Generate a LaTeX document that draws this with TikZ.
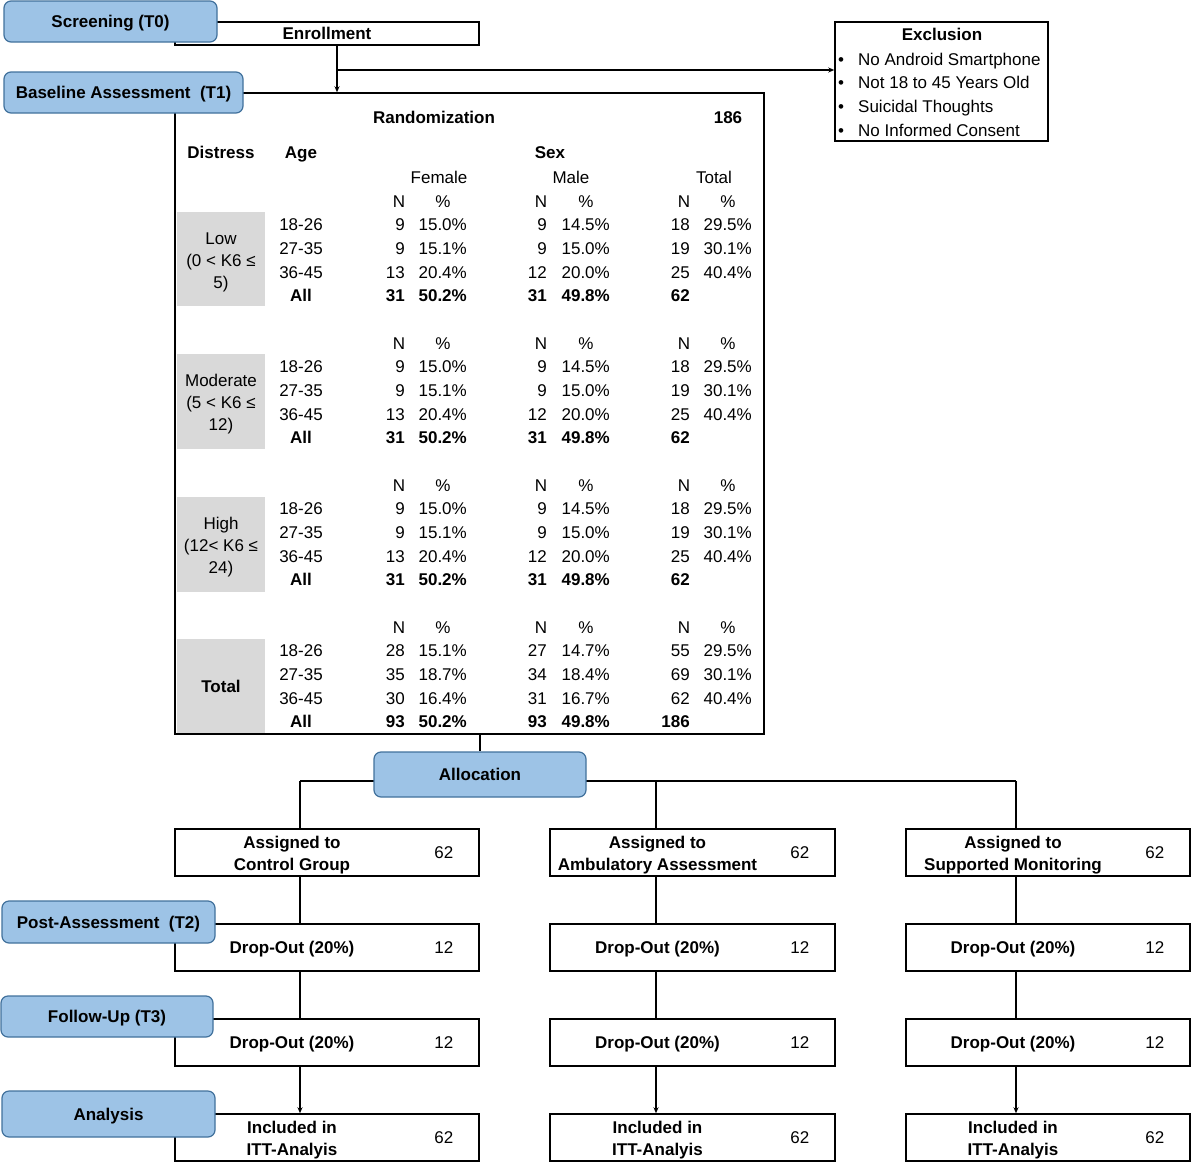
\documentclass[tikz,border=0pt]{standalone}
\usepackage{fontspec}
\setmainfont{Liberation Sans}
\usetikzlibrary{arrows.meta, positioning}
\definecolor{phasefill}{RGB}{157,195,230}
\definecolor{phaseline}{RGB}{65,113,156}
\definecolor{cellgray}{RGB}{217,217,217}

\begin{document}
\begin{tikzpicture}[x=1pt, y=-1pt,
    every node/.style={font=\fontsize{17}{22}\selectfont, inner sep=0pt, text height=12.2pt, text depth=0pt},
    multi/.style={align=center, text height={}, text depth={}, yshift=-3pt},
    phase/.style={draw=phaseline, fill=phasefill, line width=1.2pt, rounded corners=7pt,
        font=\fontsize{17}{22}\selectfont\bfseries},
    stepbox/.style={draw, line width=1.5pt, fill=white},
    link/.style={line width=1.2pt},
    linkarrow/.style={link, -{Stealth[length=6pt,width=5pt]}},
    cell/.style={fill=cellgray, minimum width=88},
]
    \useasboundingbox (0,0) rectangle (1192,1162);

    % enrollment and exclusion
    \node[stepbox, minimum width=589, minimum height=641] (rand) at (469.5,413.5) {};
    \node[stepbox, minimum width=304, minimum height=23, font=\fontsize{17}{22}\selectfont\bfseries] (enroll) at (327,33.5) {Enrollment};
    \node[stepbox, minimum width=213, minimum height=119] (excl) at (941.5,81.5) {};
    \node (excl-title) at (942,34) {\bfseries Exclusion};
    \foreach \item [count=\i] in {No Android Smartphone, Not 18 to 45 Years Old, Suicidal Thoughts, No Informed Consent} {
        \node (bul-\i) at (841,35.5+23.6*\i) {•};
        \node[anchor=west] (exc-\i) at (858,35.5+23.6*\i) {\item};
    }
    \coordinate (split) at (337,70);
    \draw[linkarrow] (enroll.south -| split) -- (rand.north -| split);
    \draw[linkarrow] (split) -- (split -| excl.west);

    % randomization table
    \node (t-rand) at (434,117) {\bfseries Randomization};
    \node (t-sum) at (728,117) {\bfseries 186};
    \node (h-dist) at (221,152) {\bfseries Distress};
    \node (h-age) at (301,152) {\bfseries Age};
    \node (h-sex) at (550,152) {\bfseries Sex};
    \node (h-fem) at (439,177) {Female};
    \node (h-male) at (571,177) {Male};
    \node (h-tot) at (714,177) {Total};

    \node[cell, minimum height=94] (low) at (221,259) {};
    \node[cell, minimum height=95] (mod) at (221,401.5) {};
    \node[cell, minimum height=95] (high) at (221,544.5) {};
    \node[cell, minimum height=94] (tot) at (221,686) {};
    \node[multi] (low-t) at (low) {Low\\(0 < K6 ≤\\5)};
    \node[multi] (mod-t) at (mod) {Moderate\\(5 < K6 ≤\\12)};
    \node[multi] (high-t) at (high) {High\\(12< K6 ≤\\24)};
    \node (tot-t) at (tot) {\bfseries Total};

    \foreach \y in {201,343,485,627} {
        \foreach \x/\t in {399/N, 443/\%, 541/N, 586/\%, 684/N, 728/\%}
            \node (nh-\y-\x) at (\x,\y) {\t};
        \node (all-\y) at (301,\y+94.8) {\bfseries All};
    }
    \foreach \y in {201,343,485} {
        \foreach \age/\fn/\fp/\mn/\mp/\tn/\tp [count=\r] in
            {18-26/9/15.0/9/14.5/18/29.5, 27-35/9/15.1/9/15.0/19/30.1, 36-45/13/20.4/12/20.0/25/40.4} {
            \node (age-\y-\r) at (301,\y+23.7*\r) {\age};
            \node[anchor=east] (fn-\y-\r) at (405,\y+23.7*\r) {\fn};
            \node[anchor=east] (fp-\y-\r) at (467,\y+23.7*\r) {\fp\%};
            \node[anchor=east] (mn-\y-\r) at (547,\y+23.7*\r) {\mn};
            \node[anchor=east] (mp-\y-\r) at (610,\y+23.7*\r) {\mp\%};
            \node[anchor=east] (tn-\y-\r) at (690,\y+23.7*\r) {\tn};
            \node[anchor=east] (tp-\y-\r) at (752,\y+23.7*\r) {\tp\%};
        }
        \node[anchor=east] (fn-\y-4) at (405,\y+94.8) {\bfseries 31};
        \node[anchor=east] (fp-\y-4) at (467,\y+94.8) {\bfseries 50.2\%};
        \node[anchor=east] (mn-\y-4) at (547,\y+94.8) {\bfseries 31};
        \node[anchor=east] (mp-\y-4) at (610,\y+94.8) {\bfseries 49.8\%};
        \node[anchor=east] (tn-\y-4) at (690,\y+94.8) {\bfseries 62};
    }
    \foreach \age/\fn/\fp/\mn/\mp/\tn/\tp [count=\r] in
        {18-26/28/15.1/27/14.7/55/29.5, 27-35/35/18.7/34/18.4/69/30.1, 36-45/30/16.4/31/16.7/62/40.4} {
        \node (age-627-\r) at (301,627+23.7*\r) {\age};
        \node[anchor=east] (fn-627-\r) at (405,627+23.7*\r) {\fn};
        \node[anchor=east] (fp-627-\r) at (467,627+23.7*\r) {\fp\%};
        \node[anchor=east] (mn-627-\r) at (547,627+23.7*\r) {\mn};
        \node[anchor=east] (mp-627-\r) at (610,627+23.7*\r) {\mp\%};
        \node[anchor=east] (tn-627-\r) at (690,627+23.7*\r) {\tn};
        \node[anchor=east] (tp-627-\r) at (752,627+23.7*\r) {\tp\%};
    }
    \node[anchor=east] (fn-627-4) at (405,721.8) {\bfseries 93};
    \node[anchor=east] (fp-627-4) at (467,721.8) {\bfseries 50.2\%};
    \node[anchor=east] (mn-627-4) at (547,721.8) {\bfseries 93};
    \node[anchor=east] (mp-627-4) at (610,721.8) {\bfseries 49.8\%};
    \node[anchor=east] (tn-627-4) at (690,721.8) {\bfseries 186};

    % study arms
    \foreach \arm/\cx/\w/\lx/\grp in {ctrl/327/304/300/Control Group, amb/692.5/285/656/Ambulatory Assessment, sup/1048/284/1016/Supported Monitoring} {
        \node[stepbox, minimum width=\w, minimum height=47] (\arm-assign) at (\cx,852.5) {};
        \node[stepbox, minimum width=\w, minimum height=47] (\arm-drop1) at (\cx,947.5) {};
        \node[stepbox, minimum width=\w, minimum height=47] (\arm-drop2) at (\cx,1042.5) {};
        \node[stepbox, minimum width=\w, minimum height=47] (\arm-itt) at (\cx,1137.5) {};
        \node[multi] (\arm-assign-t) at ([xshift=-35pt]\arm-assign.center) {\bfseries Assigned to\\\bfseries \grp};
        \node (\arm-drop1-t) at ([xshift=-35pt]\arm-drop1.center) {\bfseries Drop-Out (20\%)};
        \node (\arm-drop2-t) at ([xshift=-35pt]\arm-drop2.center) {\bfseries Drop-Out (20\%)};
        \node[multi] (\arm-itt-t) at ([xshift=-35pt]\arm-itt.center) {\bfseries Included in\\\bfseries ITT-Analyis};
        \node (\arm-assign-n) at ([xshift=-36pt]\arm-assign.east) {62};
        \node (\arm-drop1-n) at ([xshift=-36pt]\arm-drop1.east) {12};
        \node (\arm-drop2-n) at ([xshift=-36pt]\arm-drop2.east) {12};
        \node (\arm-itt-n) at ([xshift=-36pt]\arm-itt.east) {62};
        \coordinate (\arm-x) at (\lx,781);
        \draw[link] (\arm-x) -- (\arm-assign.north -| \arm-x);
        \draw[link] (\arm-assign.south -| \arm-x) -- (\arm-drop1.north -| \arm-x);
        \draw[link] (\arm-drop1.south -| \arm-x) -- (\arm-drop2.north -| \arm-x);
        \draw[linkarrow] (\arm-drop2.south -| \arm-x) -- (\arm-itt.north -| \arm-x);
    }
    \draw[link] (ctrl-x) -- (sup-x);

    % phases
    \node[phase, minimum width=212, minimum height=45] (alloc) at (480,774.5) {Allocation};
    \draw[link] (rand.south -| alloc) -- (alloc.north);
    \node[phase, minimum width=213, minimum height=41] (screen) at (110.5,21.5) {Screening (T0)};
    \node[phase, minimum width=239, minimum height=41] (base) at (123.5,92.5) {Baseline Assessment\ \ (T1)};
    \node[phase, minimum width=213, minimum height=42] (post) at (108.5,922) {Post-Assessment\ \ (T2)};
    \node[phase, minimum width=212, minimum height=41] (follow) at (107,1016.5) {Follow-Up (T3)};
    \node[phase, minimum width=213, minimum height=46] (ana) at (108.5,1114) {Analysis};
\end{tikzpicture}
\end{document}
